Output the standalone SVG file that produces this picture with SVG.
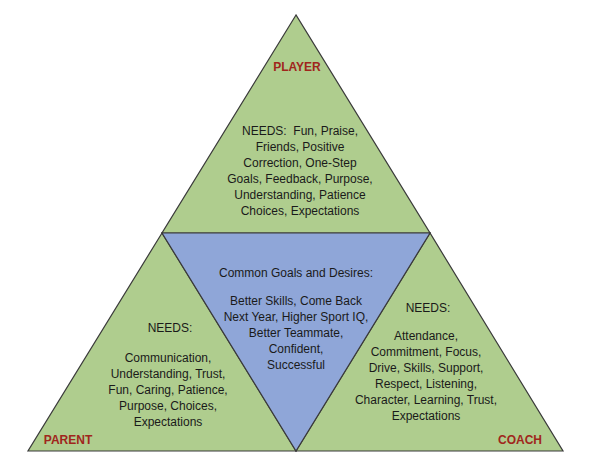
<svg xmlns="http://www.w3.org/2000/svg" width="600" height="465" viewBox="0 0 600 465">
<style>
.tri{fill:#afcd8e;stroke:#3a3a3a;stroke-width:1.2}
.mid{fill:#8fa6d8;stroke:#3a3a3a;stroke-width:1.2}
text{font-family:"Liberation Sans",Arial,sans-serif;font-size:12px;fill:#1a1a1a;text-anchor:middle}
.lab{font-weight:bold;fill:#a0261c;font-size:12px}
</style>
<rect width="600" height="465" fill="#fff"/>
<g id="player">
<polygon class="tri" points="296,15 162,233 430,233"/>
<text class="lab" x="297" y="71">PLAYER</text>
<text x="300" y="135" xml:space="preserve">NEEDS:  Fun, Praise,</text>
<text x="300" y="151">Friends, Positive</text>
<text x="300" y="167">Correction, One-Step</text>
<text x="300" y="183">Goals, Feedback, Purpose,</text>
<text x="300" y="199">Understanding, Patience</text>
<text x="300" y="215">Choices, Expectations</text>
</g>
<g id="parent">
<polygon class="tri" points="162,233 28,451 296,451"/>
<text class="lab" x="68" y="444">PARENT</text>
<text x="170" y="332">NEEDS:</text>
<text x="168" y="362">Communication,</text>
<text x="168" y="378">Understanding, Trust,</text>
<text x="168" y="394">Fun, Caring, Patience,</text>
<text x="168" y="410">Purpose, Choices,</text>
<text x="168" y="426">Expectations</text>
</g>
<g id="coach">
<polygon class="tri" points="430,233 296,451 563,451"/>
<text class="lab" x="520" y="444">COACH</text>
<text x="428" y="312">NEEDS:</text>
<text x="426" y="340">Attendance,</text>
<text x="426" y="356">Commitment, Focus,</text>
<text x="426" y="372">Drive, Skills, Support,</text>
<text x="426" y="388">Respect, Listening,</text>
<text x="426" y="404">Character, Learning, Trust,</text>
<text x="426" y="420">Expectations</text>
</g>
<g id="common">
<polygon class="mid" points="162,233 430,233 296,451"/>
<text x="296" y="277">Common Goals and Desires:</text>
<text x="296" y="305">Better Skills, Come Back</text>
<text x="296" y="321">Next Year, Higher Sport IQ,</text>
<text x="296" y="337">Better Teammate,</text>
<text x="296" y="353">Confident,</text>
<text x="296" y="369">Successful</text>
</g>
<g id="connectors"></g>
</svg>
